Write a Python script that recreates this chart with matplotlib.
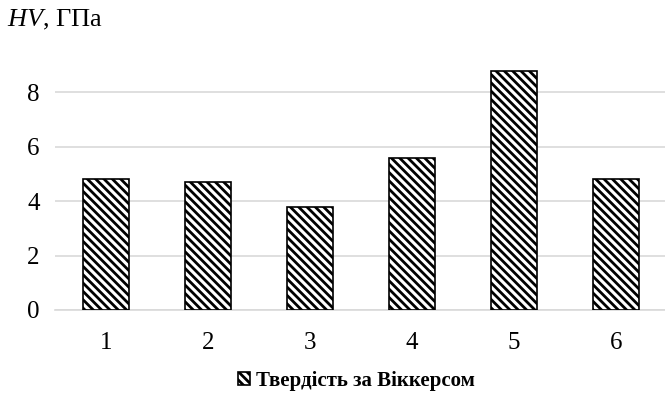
import matplotlib
matplotlib.use("Agg")
import matplotlib.pyplot as plt

categories = ["1", "2", "3", "4", "5", "6"]
values = [4.8, 4.7, 3.8, 5.6, 8.8, 4.8]
yticks = [0, 2, 4, 6, 8]
series_name = "Твердість за Віккерсом"

plt.rcParams['font.family'] = ['Liberation Serif', 'DejaVu Serif']
plt.rcParams['mathtext.fontset'] = 'custom'
plt.rcParams['mathtext.it'] = 'Liberation Serif:italic'
plt.rcParams['mathtext.rm'] = 'Liberation Serif'
plt.rcParams['hatch.linewidth'] = 2.0
plt.rcParams['hatch.color'] = 'black'

fig = plt.figure(figsize=(6.65, 3.96), dpi=100)
ax = fig.add_axes([55/665, 1 - 310/396, 612/665, 310/396 - 0.13])

x = list(range(len(categories)))
ax.bar(x, values, width=0.46, color='white', edgecolor='black', linewidth=1.2,
       hatch='\\\\\\\\', label=series_name, zorder=3)

ax.set_xlim(-0.5, len(categories) - 0.5)
ax.set_ylim(0, 9.5)
ax.set_yticks(yticks)
ax.set_xticks(x)
ax.set_xticklabels(categories)
ax.tick_params(axis='both', length=0, labelsize=18, colors='#000000')
ax.tick_params(axis='y', pad=11)
ax.tick_params(axis='x', pad=16)
ax.yaxis.grid(True, color='#d9d9d9', linewidth=1.2, zorder=0)
for s in ['top', 'right', 'left']:
    ax.spines[s].set_visible(False)
ax.spines['bottom'].set_color('#d9d9d9')
ax.spines['bottom'].set_linewidth(1.2)

fig.text(7/665, 1 - 20/396, "$HV$, ГПа", fontsize=19, va='center', ha='left')

leg = fig.legend(loc='center', bbox_to_anchor=(0.536, 1 - 381/396), frameon=False,
                 handlelength=0.6, handleheight=0.6, handletextpad=0.3,
                 prop={'size': 15, 'weight': 'bold'})

fig.savefig('out.png', dpi=100)
